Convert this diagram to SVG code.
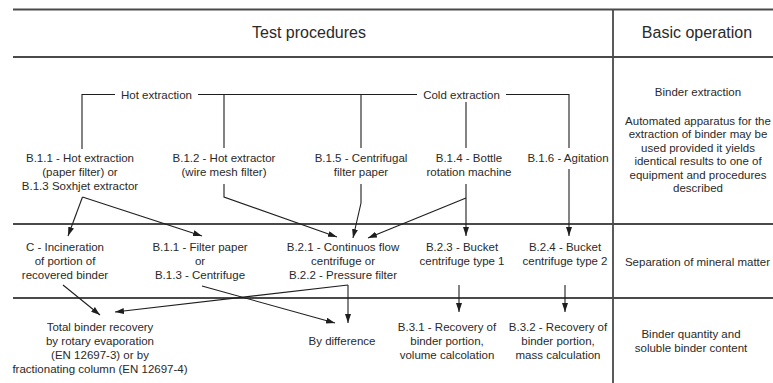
<svg xmlns="http://www.w3.org/2000/svg" width="773" height="383" viewBox="0 0 773 383">
  <style>
    .rule { stroke: #4a4a4a; stroke-width: 1.8; fill: none; }
    .ln { stroke: #1e1e1e; stroke-width: 1.1; fill: none; }
    .arr { stroke: #1e1e1e; stroke-width: 1.1; fill: none; marker-end: url(#head); }
    text { font-family: "Liberation Sans", Arial, sans-serif; font-size: 11.5px; fill: #2a2a2a; text-anchor: middle; }
    .hd { font-size: 16px; }
  </style>
  <defs>
    <marker id="head" markerUnits="userSpaceOnUse" markerWidth="10" markerHeight="7" refX="9" refY="3" orient="auto">
      <path d="M0,0 L9,3 L0,6 z" fill="#1e1e1e"/>
    </marker>
  </defs>

  <rect width="773" height="383" fill="#ffffff"/>

  <!-- table frame -->
  <g id="table">
    <path class="rule" d="M13,9.5 H773 M13,57 H773 M13,224 H773 M13,298 H773 M613,9.5 V383"/>
    <text class="hd" x="309" y="38">Test procedures</text>
    <text class="hd" x="697" y="38">Basic operation</text>
  </g>

  <!-- connectors -->
  <g id="connectors">
    <!-- extraction bracket -->
    <path class="ln" d="M82,149 V94.5 H115 M198,94.5 H417 M506,94.5 H569 V148 M224,94.5 V148 M361,94.5 V148 M466,102 V148"/>
    <text x="156.5" y="99">Hot extraction</text>
    <text x="461.5" y="99">Cold extraction</text>
    <!-- extraction to separation -->
    <path class="arr" d="M82.5,197 L68,236"/>
    <path class="arr" d="M82.5,197 L202,236"/>
    <path class="arr" d="M224,184 V197 L337,237"/>
    <path class="arr" d="M361,184 V203 L353,238"/>
    <path class="arr" d="M466,198 L368,238"/>
    <path class="arr" d="M466,184 V236"/>
    <path class="arr" d="M569,169 V236"/>
    <!-- separation to quantity -->
    <path class="arr" d="M63,285 L100,315"/>
    <path class="arr" d="M202,286 L335,323"/>
    <path class="arr" d="M348,285 L115,312"/>
    <path class="arr" d="M348,285 V323"/>
    <path class="arr" d="M459,285 V312"/>
    <path class="arr" d="M565,285 V312"/>
  </g>

  <!-- extraction procedures -->
  <g id="b11">
    <text x="80" y="162">B.1.1 - Hot extraction</text>
    <text x="80" y="176">(paper filter) or</text>
    <text x="80" y="190">B.1.3 Soxhjet extractor</text>
  </g>
  <g id="b12">
    <text x="224" y="162">B.1.2 - Hot extractor</text>
    <text x="224" y="176">(wire mesh filter)</text>
  </g>
  <g id="b15">
    <text x="361" y="162">B.1.5 - Centrifugal</text>
    <text x="361" y="176">filter paper</text>
  </g>
  <g id="b14">
    <text x="469" y="162">B.1.4 - Bottle</text>
    <text x="469" y="176">rotation machine</text>
  </g>
  <g id="b16">
    <text x="568" y="162">B.1.6 - Agitation</text>
  </g>
  <g id="op-extraction">
    <text x="698" y="96">Binder extraction</text>
    <text x="698" y="124.5">Automated apparatus for the</text>
    <text x="698" y="138">extraction of binder may be</text>
    <text x="698" y="151.5">used provided it yields</text>
    <text x="698" y="165">identical results to one of</text>
    <text x="698" y="178.5">equipment and procedures</text>
    <text x="698" y="192">described</text>
  </g>

  <!-- separation procedures -->
  <g id="c">
    <text x="65" y="251">C - Incineration</text>
    <text x="65" y="265">of portion of</text>
    <text x="65" y="279">recovered binder</text>
  </g>
  <g id="b11-filter">
    <text x="200" y="251">B.1.1 - Filter paper</text>
    <text x="200" y="265">or</text>
    <text x="200" y="279">B.1.3 - Centrifuge</text>
  </g>
  <g id="b21">
    <text x="343" y="251">B.2.1 - Continuos flow</text>
    <text x="343" y="265">centrifuge or</text>
    <text x="343" y="279">B.2.2 - Pressure filter</text>
  </g>
  <g id="b23">
    <text x="462" y="251">B.2.3 - Bucket</text>
    <text x="462" y="265">centrifuge type 1</text>
  </g>
  <g id="b24">
    <text x="565" y="251">B.2.4 - Bucket</text>
    <text x="565" y="265">centrifuge type 2</text>
  </g>
  <g id="op-separation">
    <text x="697.5" y="266">Separation of mineral matter</text>
  </g>

  <!-- binder quantity -->
  <g id="total">
    <text x="100" y="331">Total binder recovery</text>
    <text x="100" y="345">by rotary evaporation</text>
    <text x="100" y="359">(EN 12697-3) or by</text>
    <text x="100" y="373">fractionating column (EN 12697-4)</text>
  </g>
  <g id="difference">
    <text x="342" y="345">By difference</text>
  </g>
  <g id="b31">
    <text x="447" y="331">B.3.1 - Recovery of</text>
    <text x="447" y="345">binder portion,</text>
    <text x="447" y="359">volume calcolation</text>
  </g>
  <g id="b32">
    <text x="558" y="331">B.3.2 - Recovery of</text>
    <text x="558" y="345">binder portion,</text>
    <text x="558" y="359">mass calculation</text>
  </g>
  <g id="op-quantity">
    <text x="691" y="338">Binder quantity and</text>
    <text x="691" y="352">soluble binder content</text>
  </g>
</svg>
